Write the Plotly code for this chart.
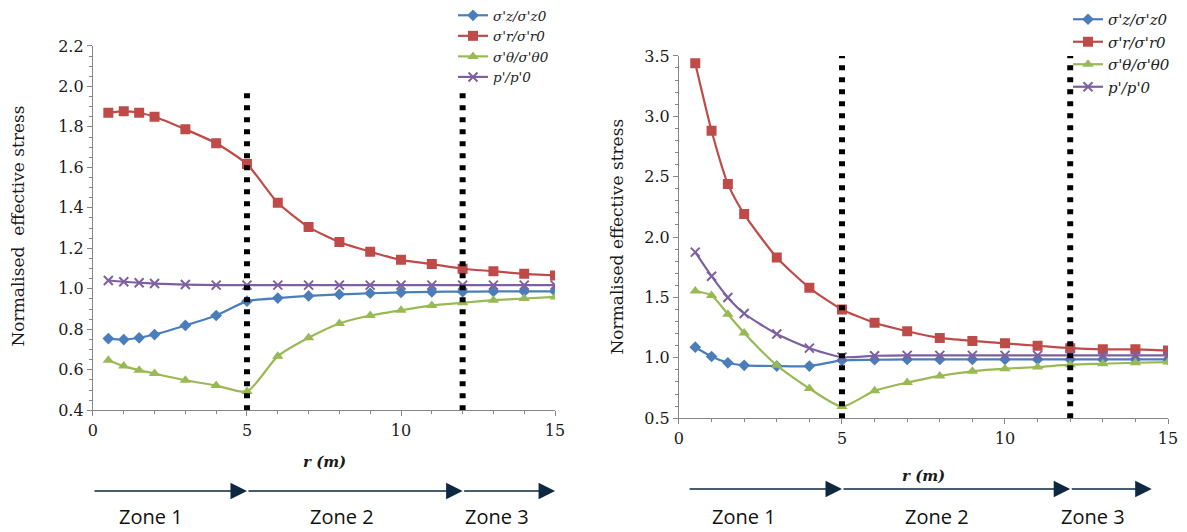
import plotly.graph_objects as go

# ---------------- data ----------------
r_vals = [0.5, 1, 1.5, 2, 3, 4, 5, 6, 7, 8, 9, 10, 11, 12, 13, 14, 15]

# left chart
L_sz = [0.754, 0.749, 0.758, 0.774, 0.819, 0.868, 0.939, 0.954, 0.965, 0.972, 0.978, 0.982, 0.985, 0.986, 0.987, 0.987, 0.987]
L_sr = [1.870, 1.877, 1.870, 1.850, 1.788, 1.719, 1.616, 1.425, 1.305, 1.231, 1.183, 1.143, 1.122, 1.099, 1.087, 1.074, 1.066]
L_st = [0.647, 0.618, 0.598, 0.581, 0.548, 0.522, 0.492, 0.667, 0.758, 0.829, 0.868, 0.894, 0.918, 0.931, 0.944, 0.952, 0.960]
L_p = [1.041, 1.035, 1.030, 1.026, 1.021, 1.018, 1.018, 1.018, 1.018, 1.018, 1.018, 1.018, 1.018, 1.018, 1.018, 1.018, 1.018]

# right chart
R_sz = [1.088, 1.011, 0.959, 0.938, 0.932, 0.932, 0.979, 0.984, 0.987, 0.987, 0.987, 0.987, 0.987, 0.987, 0.987, 0.987, 0.987]
R_sr = [3.44, 2.88, 2.44, 2.19, 1.83, 1.58, 1.40, 1.29, 1.22, 1.165, 1.14, 1.12, 1.10, 1.08, 1.07, 1.07, 1.06]
R_st = [1.553, 1.517, 1.361, 1.206, 0.938, 0.746, 0.596, 0.727, 0.795, 0.850, 0.888, 0.910, 0.924, 0.943, 0.951, 0.959, 0.965]
R_p = [1.875, 1.676, 1.500, 1.367, 1.197, 1.080, 1.006, 1.017, 1.020, 1.020, 1.020, 1.020, 1.020, 1.020, 1.020, 1.020, 1.020]

series_names = ["σ'z/σ'z0", "σ'r/σ'r0", "σ'θ/σ'θ0", "p'/p'0"]
series_colors = ["#4A7EBB", "#BE4B48", "#98B954", "#7D60A0"]
series_symbols = ["diamond", "square", "triangle-up", "x-thin"]
series_sizes = [9, 10, 10, 9]

zone_bounds = [5, 12]
left_dot_top = 2.0
right_dot_top = 3.5

left_arrow_edges = [0, 5, 12, 15]
right_arrow_edges = [0.28, 5, 12, 14.5]
zone_labels = ["Zone 1", "Zone 2", "Zone 3"]
left_zone_x = [1.9, 8.1, 13.1]
right_zone_x = [2.0, 7.9, 12.7]

# ---------------- figure ----------------
fig = go.Figure()

def add_series(ys_list, xa, ya, legend):
    for name, ys, col, sym, sz in zip(series_names, ys_list, series_colors, series_symbols, series_sizes):
        marker = dict(symbol=sym, size=sz, color=col)
        if sym == "x-thin":
            marker["line"] = dict(color=col, width=2)
        fig.add_trace(go.Scatter(
            x=r_vals, y=ys, name=name, mode="lines+markers",
            line=dict(color=col, width=2.2, shape="spline", smoothing=0.6),
            marker=marker, xaxis=xa, yaxis=ya, legend=legend,
        ))

add_series([L_sz, L_sr, L_st, L_p], "x", "y", "legend")
add_series([R_sz, R_sr, R_st, R_p], "x2", "y2", "legend2")

serif = "DejaVu Serif"
axis_common = dict(
    showline=True, linecolor="#868686", linewidth=1.2,
    ticks="outside", ticklen=5, tickcolor="#868686", tickwidth=1.2,
    showgrid=False, zeroline=False,
)

fig.update_layout(
    template="none",
    width=1187, height=532,
    margin=dict(l=0, r=0, t=0, b=0),
    paper_bgcolor="white", plot_bgcolor="white",
    font=dict(family=serif, color="#1a1a1a"),
    xaxis=dict(domain=[0.0783, 0.4676], anchor="y", range=[0, 15], dtick=5, tick0=0,
               minor=dict(dtick=1, ticks="outside", ticklen=3, tickcolor="#868686"), **axis_common),
    yaxis=dict(domain=[0.2293, 0.9154], anchor="x", range=[0.4, 2.2], dtick=0.2, tick0=0.4,
               tickformat=".1f",
               minor=dict(dtick=0.05, ticks="outside", ticklen=3, tickcolor="#868686"), **axis_common),
    xaxis2=dict(domain=[0.5720, 0.9840], anchor="y2", range=[0, 15], dtick=5, tick0=0,
                minor=dict(dtick=1, ticks="outside", ticklen=3, tickcolor="#868686"), **axis_common),
    yaxis2=dict(domain=[0.2143, 0.8966], anchor="x2", range=[0.5, 3.5], dtick=0.5, tick0=0.5,
                tickformat=".1f",
                minor=dict(dtick=0.1, ticks="outside", ticklen=3, tickcolor="#868686"), **axis_common),
    legend=dict(x=453 / 1187, y=1 + 1 / 532, xanchor="left", yanchor="top",
                bgcolor="rgba(0,0,0,0)",
                font=dict(family=serif, size=13.5, color="#222", style="italic")),
    legend2=dict(x=1068 / 1187, y=1 - 3 / 532, xanchor="left", yanchor="top",
                 bgcolor="rgba(0,0,0,0)",
                 font=dict(family=serif, size=15, color="#222", style="italic")),
)
fig.update_xaxes(tickfont=dict(family=serif, size=16, color="#1a1a1a"))
fig.update_yaxes(tickfont=dict(family=serif, size=16, color="#1a1a1a"))

# dotted zone boundary lines
dot_line = dict(color="black", width=6, dash="5px,7px")
for xb in zone_bounds:
    fig.add_shape(type="line", xref="x", yref="y", x0=xb, x1=xb, y0=0.4, y1=left_dot_top,
                  line=dot_line, layer="above")
    fig.add_shape(type="line", xref="x2", yref="y2", x0=xb, x1=xb, y0=0.5, y1=right_dot_top,
                  line=dot_line, layer="above")

# axis titles
ytitle_font = dict(family=serif, size=17, color="#1a1a1a")
fig.add_annotation(text="Normalised  effective stress", xref="paper", yref="paper",
                   x=18 / 1187, y=1 - 226 / 532, textangle=-90, showarrow=False,
                   font=ytitle_font, xanchor="center", yanchor="middle")
fig.add_annotation(text="Normalised effective stress", xref="paper", yref="paper",
                   x=617 / 1187, y=1 - 236 / 532, textangle=-90, showarrow=False,
                   font=ytitle_font, xanchor="center", yanchor="middle")
xtitle_font = dict(family=serif, size=15, color="#1a1a1a", style="italic", weight="bold")
fig.add_annotation(text="r (m)", xref="paper", yref="paper", x=324 / 1187, y=1 - 462 / 532,
                   showarrow=False, font=xtitle_font, xanchor="center", yanchor="middle")
fig.add_annotation(text="r (m)", xref="paper", yref="paper", x=923 / 1187, y=1 - 476 / 532,
                   showarrow=False, font=xtitle_font, xanchor="center", yanchor="middle")

# zone arrows
arrow_col = "#0E2841"
def add_arrows(edges, xa, ypx):
    for a, b in zip(edges[:-1], edges[1:]):
        fig.add_annotation(x=b, y=1 - ypx / 532, xref=xa, yref="paper",
                           ax=a, ay=0, axref=xa, ayref="pixel",
                           text="", showarrow=True, arrowhead=2, arrowsize=2.2,
                           arrowwidth=1.5, arrowcolor=arrow_col, standoff=0, startstandoff=0)

add_arrows(left_arrow_edges, "x", 491)
add_arrows(right_arrow_edges, "x2", 489)

zone_font = dict(family="Open Sans", size=20, color="#111")
for lbl, xv in zip(zone_labels, left_zone_x):
    fig.add_annotation(text=lbl, x=xv, y=1 - 516 / 532, xref="x", yref="paper",
                       showarrow=False, font=zone_font, xanchor="center", yanchor="middle")
for lbl, xv in zip(zone_labels, right_zone_x):
    fig.add_annotation(text=lbl, x=xv, y=1 - 516 / 532, xref="x2", yref="paper",
                       showarrow=False, font=zone_font, xanchor="center", yanchor="middle")

fig.write_html("out.html")
